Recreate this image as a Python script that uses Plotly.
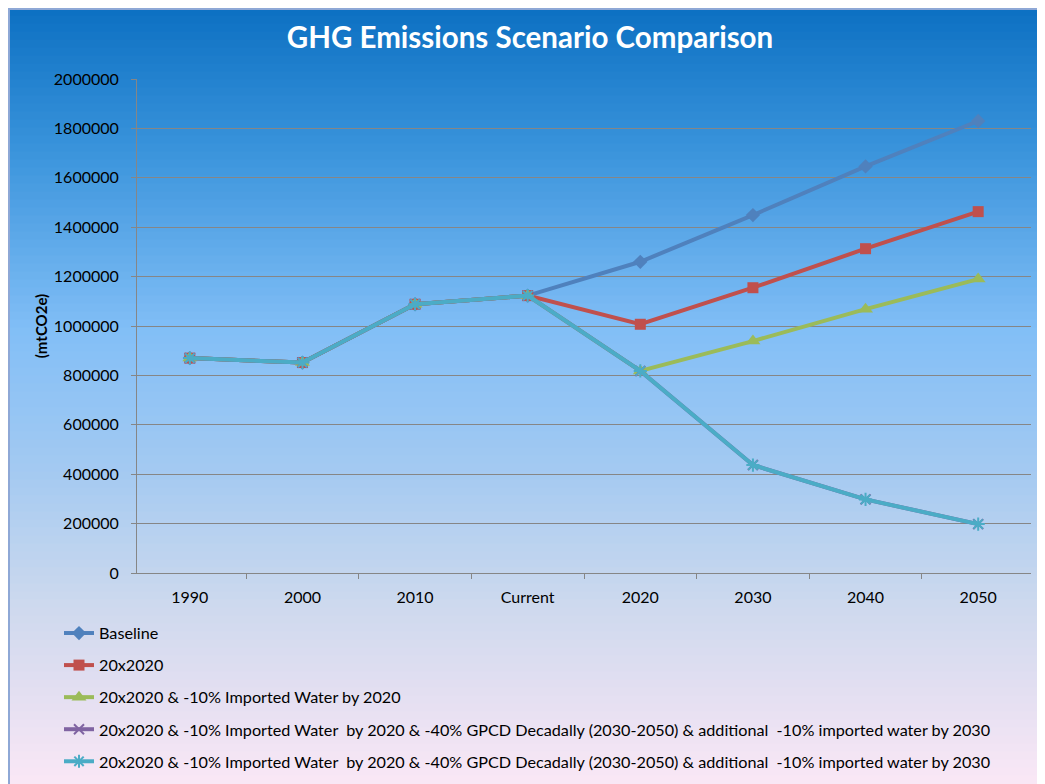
import plotly.graph_objects as go

# 数据
categories = ['1990', '2000', '2010', 'Current', '2020', '2030', '2040', '2050']
baseline = [870000, 852000, 1088000, 1123000, 1260000, 1449000, 1646000, 1830000]
s20x2020 = [870000, 852000, 1088000, 1123000, 1007000, 1155000, 1313000, 1463000]
s_imported = [870000, 852000, 1088000, 1123000, 818000, 939000, 1068000, 1190000]
s_gpcd_a = [870000, 852000, 1088000, 1123000, 818000, 437000, 298000, 198000]
s_gpcd_b = [870000, 852000, 1088000, 1123000, 818000, 437000, 298000, 198000]

long_name = ('20x2020 & -10% Imported Water  by 2020 & -40% GPCD Decadally '
             '(2030-2050) & additional  -10% imported water by 2030')

series = [
    ('Baseline', baseline, '#4F81BD', 'diamond', 11),
    ('20x2020', s20x2020, '#C0504D', 'square', 11),
    ('20x2020 & -10% Imported Water by 2020', s_imported, '#9BBB59', 'triangle-up', 13),
    (long_name, s_gpcd_a, '#8064A2', 'x-thin-open', 10),
    (long_name, s_gpcd_b, '#4BACC6', 'asterisk-open', 11),
]

# 页面有 8px 的 body 边距，图形尺寸相应缩小
OFF = 8
PAGE_W, PAGE_H = 1045, 784
W, H = PAGE_W - OFF, PAGE_H - OFF
L, R, T, B = 129, 14, 79 - OFF, PAGE_H - 573
pw, ph = W - L - R, H - T - B

fig = go.Figure()

for i, (name, vals, color, symbol, size) in enumerate(series):
    open_sym = symbol.endswith('open')
    fig.add_trace(go.Scatter(
        x=categories, y=vals, name=name, mode='lines+markers',
        legendgroup=f'g{i}',
        line=dict(color=color, width=4),
        marker=dict(symbol=symbol, size=size, color=color,
                    line=dict(color=color, width=2 if open_sym else 0)),
    ))

# 背景渐变（页面像素 -> 纸面坐标）
stops = [(0, (10, 111, 193)), (150, (58, 148, 220)), (330, (130, 191, 247)),
         (470, (164, 202, 242)), (600, (204, 217, 238)), (700, (229, 224, 242)),
         (784, (250, 232, 246))]


def color_at(py):
    for (y0, c0), (y1, c1) in zip(stops[:-1], stops[1:]):
        if y0 <= py <= y1:
            t = (py - y0) / (y1 - y0)
            return 'rgb(%d,%d,%d)' % tuple(int(a + (b - a) * t) for a, b in zip(c0, c1))
    return 'rgb(%d,%d,%d)' % stops[-1][1]


def page_y(py):
    return (573 - py) / ph


def page_x(px):
    return (px - OFF - L) / pw


shapes = []
step = 8
for py in range(0, PAGE_H, step):
    shapes.append(dict(
        type='rect', xref='paper', yref='paper', layer='below',
        x0=page_x(-20), x1=page_x(PAGE_W + 20),
        y0=page_y(py + step + 0.5), y1=page_y(py - 0.5),
        fillcolor=color_at(py + step / 2), line=dict(width=0),
    ))
shapes.append(dict(
    type='rect', xref='paper', yref='paper', layer='below',
    x0=page_x(9), x1=page_x(PAGE_W + 5),
    y0=page_y(PAGE_H + 5), y1=page_y(9),
    line=dict(color='#8EA8D6', width=2),
))

fig.update_layout(
    width=W, height=H,
    margin=dict(l=L, r=R, t=T, b=B, autoexpand=False),
    paper_bgcolor='rgba(0,0,0,0)',
    plot_bgcolor='rgba(0,0,0,0)',
    font=dict(family='Lato', size=16, color='black'),
    title=dict(text='<b>GHG Emissions Scenario Comparison</b>',
               x=page_x(530), xref='paper', xanchor='center',
               y=1 - (38 - OFF) / H, yanchor='middle',
               font=dict(family='Lato', size=29.5, color='white')),
    shapes=shapes,
    showlegend=True,
    legend=dict(x=page_x(59), xanchor='left',
                y=page_y(616), yanchor='top',
                traceorder='grouped', tracegroupgap=8,
                bgcolor='rgba(0,0,0,0)', font=dict(size=16.2),
                itemwidth=30),
    xaxis=dict(
        type='category', showline=True, linecolor='#868686', linewidth=1,
        ticks='outside', ticklen=5, tickcolor='#868686', tickson='boundaries',
        showgrid=False, tickfont=dict(size=16), ticklabelstandoff=10,
    ),
    yaxis=dict(
        range=[0, 2000000], dtick=200000, tickformat='d',
        showline=True, linecolor='#868686', linewidth=1,
        ticks='outside', ticklen=5, tickcolor='#868686',
        showgrid=True, gridcolor='#868686', gridwidth=1,
        zeroline=False, tickfont=dict(size=16), ticklabelstandoff=9,
        title=dict(text='<b>(mtCO2e)</b>', font=dict(size=15), standoff=2),
    ),
)

fig.write_html('out.html')
